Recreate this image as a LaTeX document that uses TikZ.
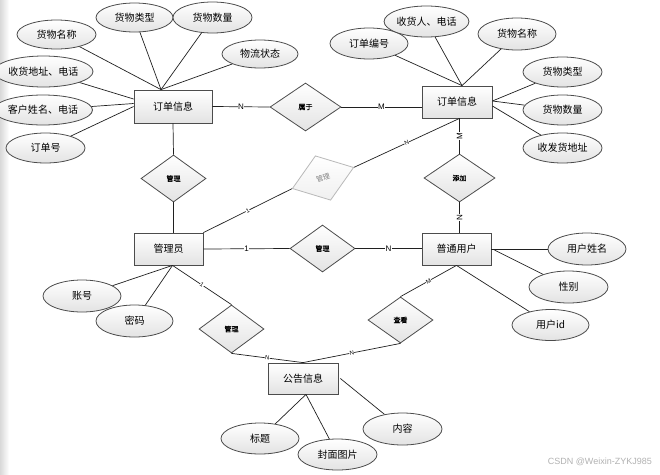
\documentclass[tikz,border=0pt]{standalone}
\usepackage{fontspec}
\setmainfont{Liberation Sans}
\newfontfamily\cjk{Noto Sans CJK SC}
\newfontfamily\cjkb[FakeBold=1.2]{Noto Sans CJK SC}
\usetikzlibrary{shapes.geometric,calc}
\begin{document}
\begin{tikzpicture}[x=1pt,y=-1pt,
  box/.style={draw=gray!60!black, line width=0.8pt, top color=white, bottom color=gray!22},
  ent/.style={box, rectangle, minimum width=70pt, minimum height=32pt, inner sep=0pt, font=\cjk\fontsize{10}{12}\selectfont},
  attr/.style={box, ellipse, minimum width=78pt, minimum height=31pt, inner sep=0pt, font=\cjk\fontsize{10}{12}\selectfont},
  rel/.style={box, diamond, minimum width=65pt, minimum height=47pt, inner sep=0pt, font=\cjkb\fontsize{7}{8}\selectfont},
  ln/.style={draw=gray!25!black, line width=0.7pt},
  lbl/.style={fill=white, inner sep=0.5pt, font=\fontsize{8}{9}\selectfont},
  slbl/.style={fill=white, inner sep=0.3pt, font=\fontsize{6}{7}\selectfont}
]
\useasboundingbox (0,0) rectangle (660,474);
\fill[white] (0,0) rectangle (660,474);
\shade[left color=gray!30, right color=white] (0,0) rectangle (9,474);

% entities
\node[ent, minimum width=78pt, minimum height=33pt] (ol) at (173,106.5) {订单信息};
\node[ent] (or) at (457,102) {订单信息};
\node[ent, minimum width=69pt] (ad) at (168.5,249) {管理员};
\node[ent, minimum width=69pt] (us) at (456.5,249) {普通用户};
\node[ent, minimum height=31pt] (no) at (303,378.5) {公告信息};

% relations
\node[rel, minimum width=71pt, minimum height=48pt] (sy) at (305.5,107) {属于};
\node[rel] (m1) at (173.5,178.5) {管理};
\node[rel, draw=gray!55, text=gray, top color=white, bottom color=gray!12, rotate=19, font=\cjk\fontsize{7}{8}\selectfont] (m2) at (323,178) {管理};
\node[rel, minimum width=71pt, minimum height=48pt] (tj) at (459.5,178) {添加};
\node[rel] (m3) at (322.5,248.5) {管理};
\node[rel, minimum height=48pt] (m4) at (231.5,329) {管理};
\node[rel, minimum height=46pt] (ck) at (400.5,320) {查看};

% attributes of left order
\node[attr, minimum width=79pt, minimum height=29pt] (a1) at (56.5,34.5) {货物名称};
\node[attr, minimum width=77pt, minimum height=29pt] (a2) at (134.5,17.5) {货物类型};
\node[attr, minimum width=79pt] (a3) at (212.5,17.5) {货物数量};
\node[attr, minimum width=76pt, minimum height=28pt] (a4) at (260,54) {物流状态};
\node[attr, minimum width=79pt] (a5) at (43.5,71.5) {收货地址、电话};
\node[attr, minimum height=30pt] (a6) at (43,110) {客户姓名、电话};
\node[attr, minimum width=79pt, minimum height=30pt] (a7) at (45.5,148) {订单号};

% attributes of right order
\node[attr] (b1) at (369,43.5) {订单编号};
\node[attr, minimum width=79pt] (b2) at (426.5,21.5) {收货人、电话};
\node[attr, minimum height=32pt] (b3) at (517,34) {货物名称};
\node[attr, minimum width=79pt, minimum height=30pt] (b4) at (562.5,72) {货物类型};
\node[attr, minimum width=79pt, minimum height=30pt] (b5) at (562.5,110) {货物数量};
\node[attr, minimum width=79pt, minimum height=30pt] (b6) at (562.5,148) {收发货地址};

% attributes of user
\node[attr, minimum height=32pt] (u1) at (587,249) {用户姓名};
\node[attr, minimum width=79pt, minimum height=32pt] (u2) at (568.5,287) {性别};
\node[attr, minimum width=77pt] (u3) at (550.5,325) {用户id};

% attributes of admin
\node[attr, minimum height=32pt] (d1) at (82,296) {账号};
\node[attr, minimum width=77pt, minimum height=32pt] (d2) at (134.5,321) {密码};

% attributes of notice
\node[attr] (n1) at (260,438.5) {标题};
\node[attr, minimum width=79pt] (n2) at (337.5,454.5) {封面图片};
\node[attr, minimum width=79pt, minimum height=32pt] (n3) at (402.5,429) {内容};

% helper coordinates
\coordinate (olt) at ($(ol.north)+(-12,0)$);
\coordinate (ort) at ($(or.north)+(5,0)$);
\coordinate (orb) at (tj.north |- or.south);
\coordinate (adb) at ($(ad.south)+(4,0)$);

% attribute lines
\foreach \a in {a1,a2,a3,a4} \draw[ln] (olt) -- (\a);
\draw[ln] ($(ol.west)+(0,-7.5)$) -- (a5);
\draw[ln] ($(ol.west)+(0,-3)$) -- (a6);
\draw[ln] (ol.west) -- (a7);
\foreach \b in {b1,b2,b3} \draw[ln] (ort) -- (\b);
\draw[ln] ($(or.east)+(0,-1)$) -- (b4);
\draw[ln] ($(or.east)+(0,-1)$) -- (b5);
\draw[ln] ($(or.east)+(0,4)$) -- (b6);
\draw[ln] (us.east) -- (u1);
\draw[ln] ($(us.east)+(3,1)$) -- (u2);
\draw[ln] (us.south) -- (u3);
\draw[ln] (adb) -- (d1);
\draw[ln] (adb) -- (d2);
\draw[ln] ($(no.south)+(3,0)$) -- (n1);
\draw[ln] ($(no.south)+(3,0)$) -- (n2);
\draw[ln] ($(no.east)+(2,0)$) -- (n3);

% relation lines
\draw[ln] (ol.east) -- node[lbl]{N} (sy.west);
\draw[ln] (sy.east) -- node[lbl]{M} (sy.east -| or.west);
\draw[ln] (ol.south) -- (m1.north);
\draw[ln] (m1.south) -- (m1.south |- ad.north);
\draw[ln] (ad.north east) -- node[slbl, sloped]{1} (m2.west);
\draw[ln] (m2.east) -- node[slbl, sloped]{N} (orb);
\draw[ln] (orb) -- node[lbl, rotate=90]{M} (tj.north);
\draw[ln] (tj.south) -- node[lbl, rotate=90]{N} (tj.south |- us.north);
\draw[ln] (ad.east) -- node[lbl]{1} (m3.west);
\draw[ln] (m3.east) -- node[lbl]{N} (m3.east -| us.west);
\draw[ln] (adb) -- node[slbl, sloped]{1} (m4.north);
\draw[ln] (m4.south) -- node[slbl, sloped]{N} (no.north);
\draw[ln] (ck.south) -- node[slbl, sloped]{N} (no.north);
\draw[ln] (us.south) -- node[slbl, sloped]{M} (ck.north);

% watermark
\node[text=gray!60, font=\fontsize{9}{10}\selectfont, anchor=east, inner sep=0pt] (wm) at (652,462) {CSDN @Weixin-ZYKJ985};
\end{tikzpicture}
\end{document}
